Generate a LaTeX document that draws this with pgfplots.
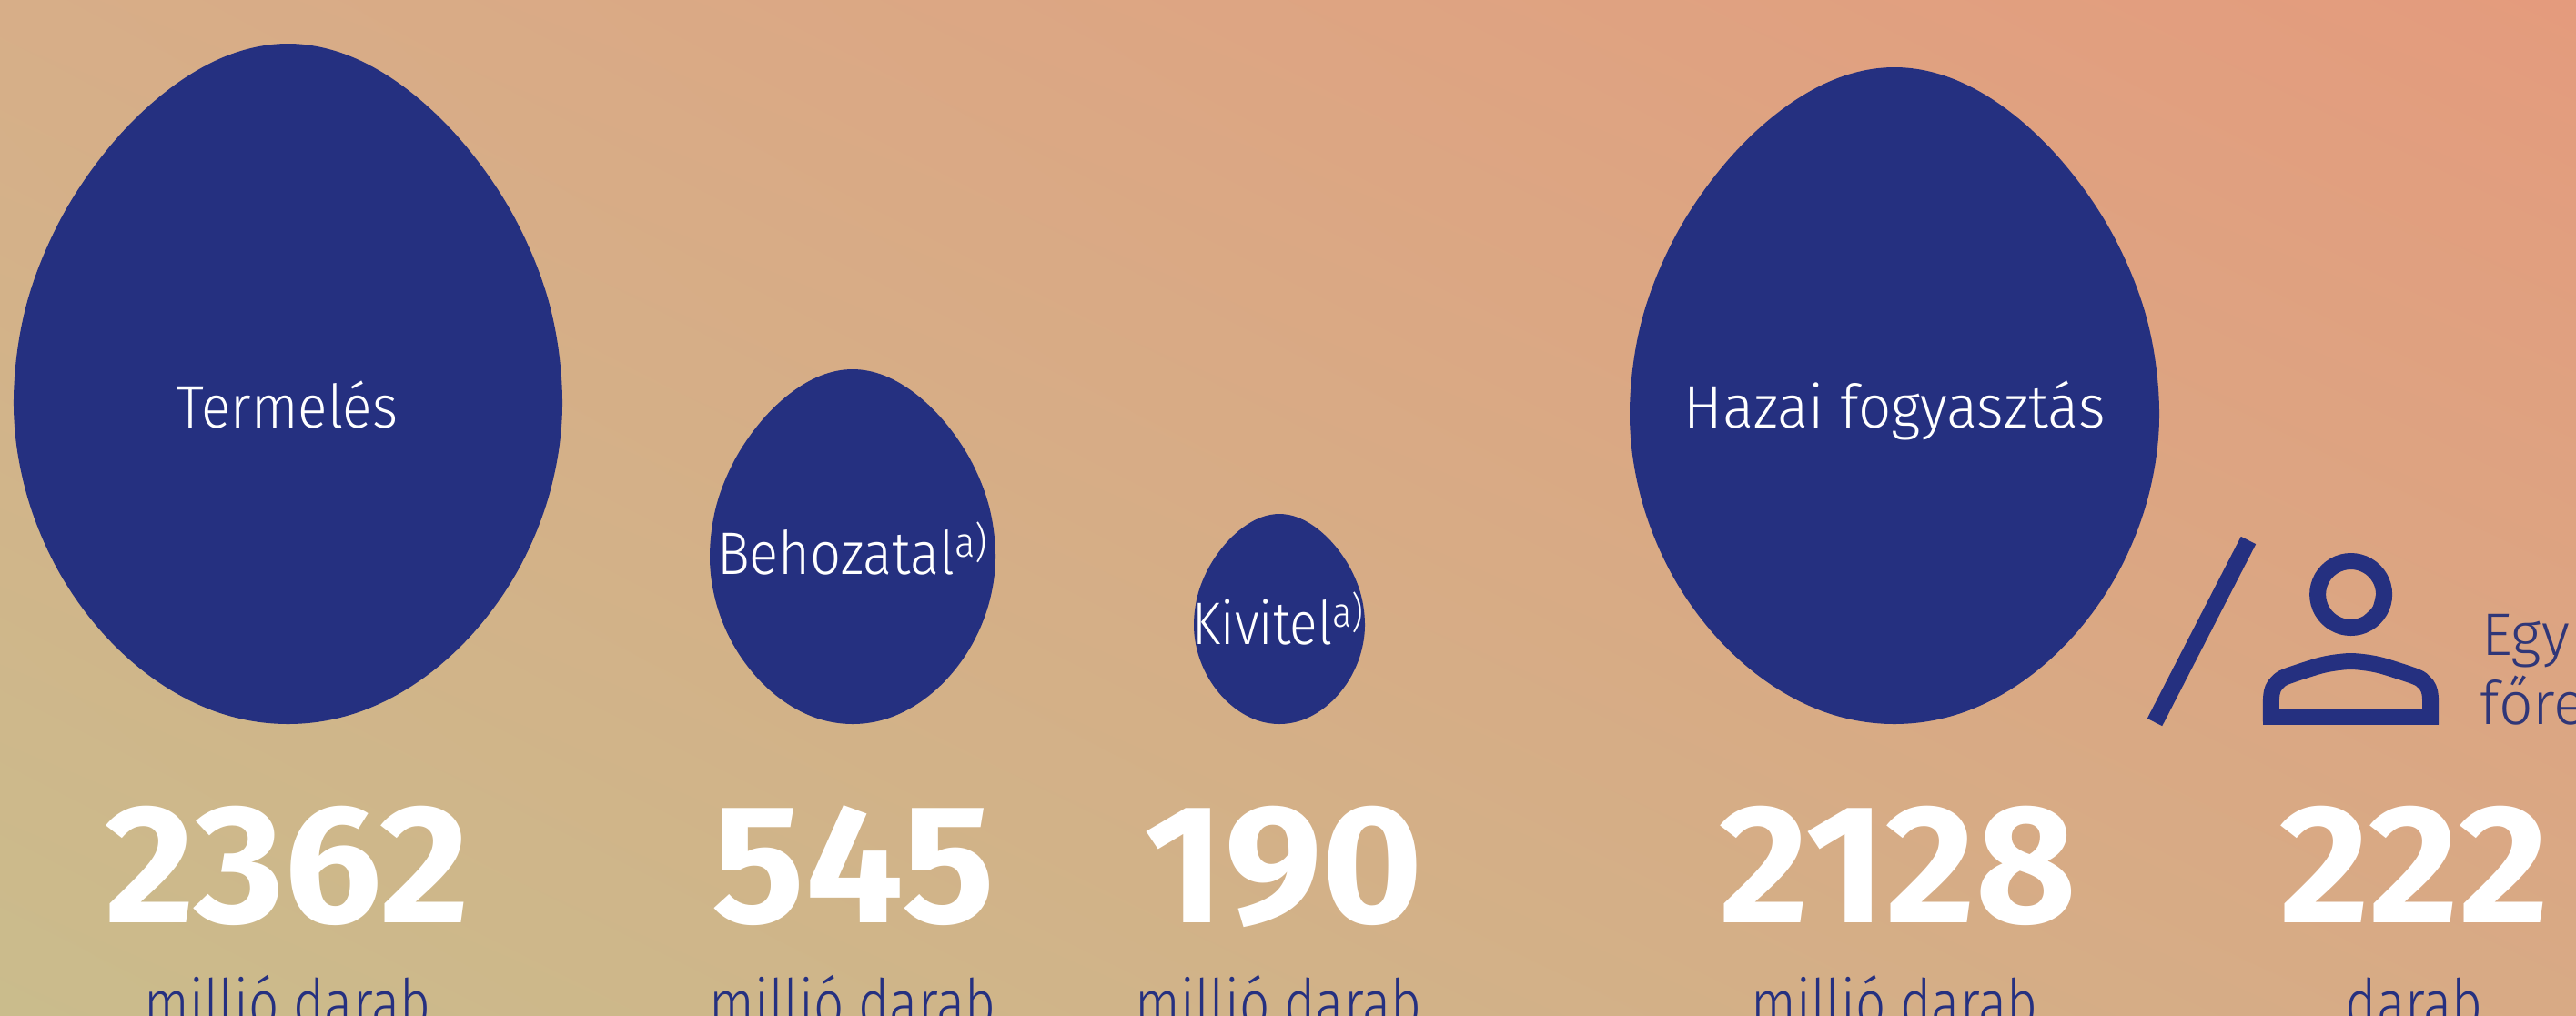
\documentclass[border=0pt]{standalone}
\usepackage{pgfplots}
\usepackage{pgfplotstable}
\usepackage{fontspec}
\usepackage{graphicx}
\usetikzlibrary{shadings}
\pgfplotsset{compat=1.18}
\setmainfont{Fira Sans}
\newfontfamily\lt{Fira Sans Light}
\newfontfamily\bd{Fira Sans Bold}
\definecolor{navy}{RGB}{37,48,128}
\definecolor{navyt}{RGB}{47,54,120}
\definecolor{bgUL}{RGB}{215,174,136}
\definecolor{bgUR}{RGB}{228,155,125}
\definecolor{bgLL}{RGB}{202,188,140}
\definecolor{bgLR}{RGB}{216,170,133}
\pgfplotstableread{
u v
1 .523
.963 .6465
.855 .7615
.689 .860
.481 .936
.247 .984
0 1
-.247 .984
-.481 .936
-.689 .860
-.855 .7615
-.963 .6465
-1 .523
-.956 .3875
-.8335 .2615
-.654 .1532
-.444 .0701
-.2227 .0178
0 0
.2227 .0178
.444 .0701
.654 .1532
.8335 .2615
.956 .3875
1 .523
.963 .6465
.855 .7615
}\egg
\newcommand\lab[4]{\node[anchor=base,inner sep=0,text=white] at (axis cs:#1,#2) {\scalebox{#4}[1]{\fontsize{33}{36}\lt #3}};}
\newcommand\num[2]{\node[anchor=base,inner sep=0,text=white] at (axis cs:#1,1014) {\scalebox{1.025}[1]{\fontsize{93}{100}\bd #2}};}
\newcommand\unit[2]{\node[anchor=base,inner sep=0,text=navy] at (axis cs:#1,1128) {\scalebox{.81}[1]{\fontsize{36}{40}\lt #2}};}
\begin{document}
\begin{tikzpicture}
\begin{axis}[
 scale only axis,width=1415.5pt,height=558pt,
 xmin=0,xmax=2831,ymin=0,ymax=1116,y dir=reverse,
 ticks=none,axis line style={draw=none},
 clip mode=global,
 axis background/.style={shade,shading=bilinear interpolation,upper left=bgUL,upper right=bgUR,lower left=bgLL,lower right=bgLR},
]
% eggs: centre x, half width, top y, height
\addplot[fill=navy,draw=none,smooth,tension=.6] table[x expr={316.5+301.5*\thisrow{u}},y expr={48+748*\thisrow{v}}] {\egg};
\addplot[fill=navy,draw=none,smooth,tension=.6] table[x expr={937+157*\thisrow{u}},y expr={406+390*\thisrow{v}}] {\egg};
\addplot[fill=navy,draw=none,smooth,tension=.6] table[x expr={1406+94*\thisrow{u}},y expr={565+231*\thisrow{v}}] {\egg};
\addplot[fill=navy,draw=none,smooth,tension=.6] table[x expr={2082+291*\thisrow{u}},y expr={74+722*\thisrow{v}}] {\egg};
% slash
\addplot[navy,line width=9.2pt] coordinates {(2471,594) (2368,794)};
% person
\addplot[navy,line width=9pt,smooth,tension=.63] coordinates {(2620.1,653.5) (2615.2,671.75) (2601.85,685.1) (2583.6,690) (2565.35,685.1) (2552,671.75) (2547.1,653.5) (2552,635.25) (2565.35,621.9) (2583.6,617) (2601.85,621.9) (2615.2,635.25) (2620.1,653.5) (2615.2,671.75) (2601.85,685.1)};
\addplot[navy,line width=9pt,smooth] coordinates {(2496,796.5) (2496,768) (2498,757) (2503,750) (2512,744) (2547,732.5) (2565,728.7) (2583.5,727) (2602,728.7) (2620,732.5) (2655,744) (2664,750) (2669,757) (2671,768) (2671,796.5)};
\addplot[navy,line width=9pt] coordinates {(2487,787.5) (2680,787.5)};
% labels
\lab{316}{470}{Termelés}{.915}
\lab{937}{631}{Behozatal\textsuperscript{a)}}{.905}
\lab{1405}{708}{Kivitel\textsuperscript{a)}}{.86}
\lab{2082}{470}{Hazai fogyasztás}{.965}
\node[anchor=base west,inner sep=0,text=navyt] at (axis cs:2727,720) {\fontsize{33}{36}\lt Egy};
\node[anchor=base west,inner sep=0,text=navyt] at (axis cs:2725,796) {\fontsize{33}{36}\lt főre};
\num{316}{2362}
\num{938}{545}
\num{1411}{190}
\num{2086}{2128}
\num{2653}{222}
\unit{316}{millió darab}
\unit{937}{millió darab}
\unit{1405}{millió darab}
\unit{2082}{millió darab}
\unit{2653}{darab}
\end{axis}
\end{tikzpicture}
\end{document}
